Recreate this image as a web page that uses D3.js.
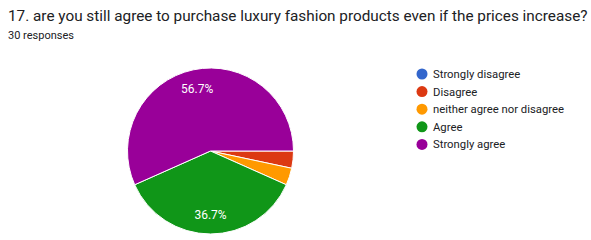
<!DOCTYPE html>
<html>
<head>
<meta charset="utf-8">
<script src="https://cdn.jsdelivr.net/npm/d3@7"></script>
<style>
  body { margin: 0; background: #fff; }
  text { font-family: Roboto, "Noto Sans", sans-serif; }
</style>
</head>
<body>
<div id="container"></div>
<script>
// answers in form order, counts out of 30 responses
var categories = ["Strongly disagree", "Disagree", "neither agree nor disagree", "Agree", "Strongly agree"];
var counts = [0, 1, 1, 11, 17];
var colors = ["#3366cc", "#dc3912", "#ff9900", "#109618", "#990099"];

var width = 591, height = 240;

var svg = d3.select("#container").append("svg")
    .attr("width", width)
    .attr("height", height);

svg.append("text")
    .attr("x", 8)
    .attr("y", 21)
    .style("font-size", "15.3px")
    .style("fill", "#202124")
    .text("17. are you still agree to purchase luxury fashion products even if the prices increase?");

svg.append("text")
    .attr("x", 8)
    .attr("y", 39)
    .style("font-size", "11px")
    .style("fill", "#202124")
    .text("30 responses");

var total = d3.sum(counts);
var radius = 83;
var cx = 210.5, cy = 151;

var pie = d3.pie()
    .sort(null)
    .startAngle(Math.PI / 2)
    .endAngle(Math.PI / 2 + 2 * Math.PI)
    .value(function (d) { return d; });

var arc = d3.arc().innerRadius(0).outerRadius(radius);
var labelArc = d3.arc().innerRadius(radius * 0.77).outerRadius(radius * 0.77);

var g = svg.append("g").attr("transform", "translate(" + cx + "," + cy + ")");
var arcs = pie(counts);

g.selectAll("path")
    .data(arcs)
    .enter()
    .append("path")
    .attr("d", arc)
    .attr("fill", function (d, i) { return colors[i]; })
    .attr("stroke", "#fff")
    .attr("stroke-width", 1);

// only big slices get a label
g.selectAll("text.pct")
    .data(arcs.filter(function (d) { return d.value / total > 0.1; }))
    .enter()
    .append("text")
    .attr("class", "pct")
    .attr("transform", function (d) { return "translate(" + labelArc.centroid(d) + ")"; })
    .attr("text-anchor", "middle")
    .attr("dy", "0.35em")
    .style("font-size", "12px")
    .style("fill", "#fff")
    .text(function (d) { return (d.value / total * 100).toFixed(1) + "%"; });

var legend = svg.append("g").attr("transform", "translate(422,74)");
var item = legend.selectAll("g")
    .data(categories)
    .enter()
    .append("g")
    .attr("transform", function (d, i) { return "translate(0," + (i * 17.6) + ")"; });

item.append("circle")
    .attr("r", 5.5)
    .attr("fill", function (d, i) { return colors[i]; });

item.append("text")
    .attr("x", 11)
    .attr("dy", "0.35em")
    .style("font-size", "11.3px")
    .style("fill", "#202124")
    .text(function (d) { return d; });
</script>
</body>
</html>
